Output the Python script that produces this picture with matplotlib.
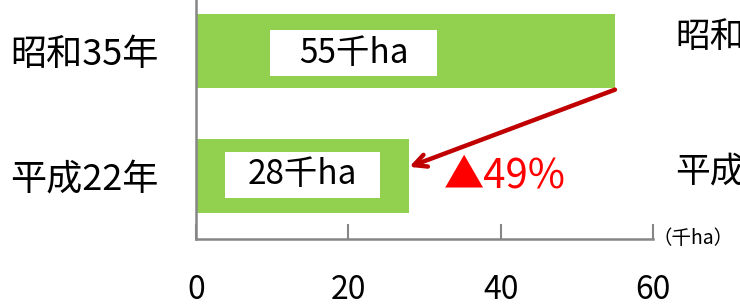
import matplotlib
matplotlib.use("Agg")
import matplotlib.pyplot as plt
from matplotlib.patches import Rectangle

plt.rcParams["font.family"] = ["Noto Sans CJK JP", "DejaVu Sans"]

# ── Data ──────────────────────────────────────────────────────────────────────
categories = ["昭和35年", "平成22年"]
values = [55, 28]
value_labels = ["55千ha", "28千ha"]
change_label = "▲49%"
x_ticks = [0, 20, 40, 60]
unit_label = "（千ha）"

BAR_COLOR = "#92D050"
AXIS_COLOR = "#868686"

# ── Figure ────────────────────────────────────────────────────────────────────
fig = plt.figure(figsize=(7.4, 3.07), dpi=100)
ax = fig.add_axes([0.2649, 0.2215, 0.6176, 0.8176])

ypos = list(range(len(categories)))
ax.barh(ypos, values, height=0.59, color=BAR_COLOR, zorder=2)

ax.set_xlim(0, 60)
ax.set_ylim(1.5, -0.5)
ax.set_xticks(x_ticks)
ax.set_xticklabels([str(t) for t in x_ticks], fontsize=23)
ax.set_yticks(ypos)
ax.set_yticklabels(categories, fontsize=26)
ax.tick_params(axis="x", direction="in", length=11, width=1.5,
               color=AXIS_COLOR, pad=25)
ax.tick_params(axis="y", length=0, pad=27)

for side in ("top", "right"):
    ax.spines[side].set_visible(False)
for side in ("left", "bottom"):
    ax.spines[side].set_color(AXIS_COLOR)
    ax.spines[side].set_linewidth(1.8)

# white value boxes inside the bars
box_spans = [(9.7, 31.7, 0.02), (3.8, 24.2, -0.01)]
for i, (x0, x1, dy) in enumerate(box_spans):
    ax.add_patch(Rectangle((x0, i + dy - 0.185), x1 - x0, 0.37,
                           facecolor="white", edgecolor="none", zorder=3))
    ax.text((x0 + x1) / 2, i + dy, value_labels[i], fontsize=24,
            ha="center", va="center", zorder=4)

# decrease arrow
ax.annotate("", xy=(28.0, 0.925), xytext=(55, 0.31),
            arrowprops=dict(arrowstyle="->,head_length=0.9,head_width=0.45",
                            color="#C00000", lw=3.2, shrinkA=0, shrinkB=0),
            zorder=5)
ax.text(32.5, 1.0, change_label, fontsize=29, color="#FF0000",
        ha="left", va="center")

# unit label and the labels of the next panel, cut by the right edge
fig.text(653 / 740, 1 - 238 / 307, unit_label, fontsize=14,
         ha="left", va="center")
fig.text(675 / 740, 1 - 37 / 307, categories[0], fontsize=25,
         ha="left", va="center")
fig.text(675 / 740, 1 - 172 / 307, categories[1], fontsize=25,
         ha="left", va="center")

fig.savefig("out.png", dpi=100)
